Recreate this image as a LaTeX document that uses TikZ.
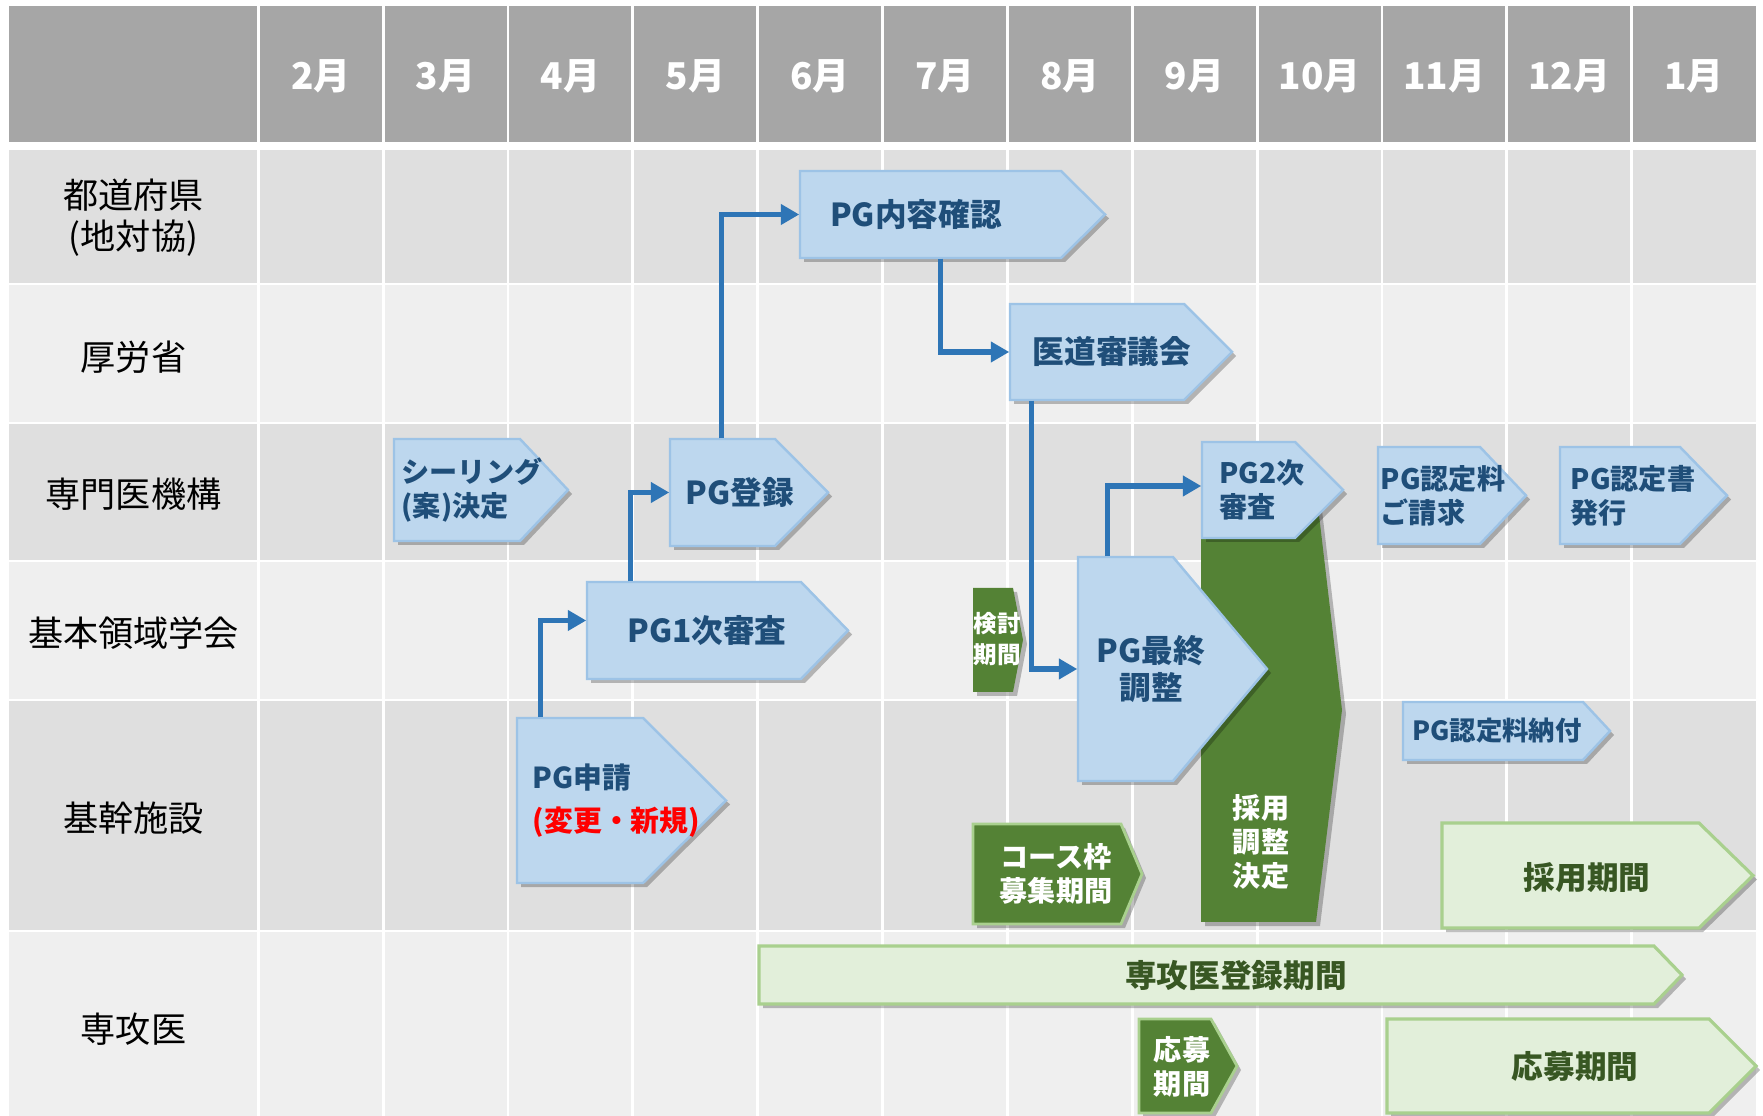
\documentclass[tikz,border=0pt]{standalone}
\usepackage{fontspec}
\setmainfont{Noto Sans CJK JP}
\usepackage{xcolor}
\usepackage{tikz}
\usetikzlibrary{arrows.meta,shadows}
\definecolor{hdr}{HTML}{A6A6A6}
\definecolor{rowdark}{HTML}{DFDFDF}
\definecolor{rowlight}{HTML}{EFEFEF}
\definecolor{boxfill}{HTML}{BDD7EE}
\definecolor{boxline}{HTML}{9DC3E6}
\definecolor{boxtext}{HTML}{1F4E79}
\definecolor{flow}{HTML}{2E75B6}
\definecolor{leaf}{HTML}{548235}
\definecolor{mint}{HTML}{E2EFDA}
\definecolor{mintline}{HTML}{A9D08E}
\definecolor{minttext}{HTML}{385723}
\definecolor{alert}{HTML}{FF0000}
\tikzset{
  gridline/.style={draw=white, line width=0.8pt},
  dropsh/.style={drop shadow={shadow xshift=0.04cm, shadow yshift=-0.04cm, opacity=0.25, fill=black}},
  boxB/.style={dropsh, fill=boxfill, draw=boxline, line width=0.7pt},
  boxG/.style={dropsh, fill=leaf, draw=mintline, line width=0.8pt},
  boxGn/.style={dropsh, fill=leaf},
  boxL/.style={dropsh, fill=mint, draw=mintline, line width=0.9pt},
  fz/.style 2 args={font=\fontsize{#1}{#2}\selectfont\bfseries},
  tB/.style={text=boxtext, align=left, inner sep=0pt},
  tG/.style={text=white, align=center, inner sep=0pt},
  tL/.style={text=minttext, align=center, inner sep=0pt},
  monthlab/.style={text=white, fz={10.5}{12}},
  rowlab/.style={text=black, font=\fontsize{10}{11.8}\selectfont, align=center},
  conn/.style={draw=flow, line width=1.55pt, -{Triangle[length=5.2pt,width=5.6pt]}}
}

\begin{document}
\begin{tikzpicture}[x=0.01cm, y=-0.01cm]
  \useasboundingbox (0,0) rectangle (1763,1116);
  \fill[white] (0,0) rectangle (1763,1116);

  % table
  \fill[hdr] (8.6,6.4) rectangle (1756,142);
  \foreach \t/\b/\c in {150/284/rowdark, 284/423/rowlight, 423/561/rowdark,
                        561/700/rowlight, 700/931/rowdark, 931/1116/rowlight}
    \fill[\c] (8.6,\t) rectangle (1756,\b);
  \foreach \y in {284,423,561,700,931}
    \draw[gridline] (8.6,\y) -- (1756,\y);
  \foreach \i in {0,...,11}
    \draw[gridline] ({258.3+124.85*\i},6.4) -- ({258.3+124.85*\i},1116);
  \foreach \m [count=\i from 0] in {2,3,4,5,6,7,8,9,10,11,12,1}
    \node[monthlab] (m\i) at ({258.3+124.85*(\i+0.5)},76) {\m 月};

  \node[rowlab] (todofuken) at (133.5,217.5) {都道府県\\(地対協)};
  \node[rowlab] (koroshou) at (133.5,357) {厚労省};
  \node[rowlab] (kikou) at (133.5,494.5) {専門医機構};
  \node[rowlab] (gakkai) at (133.5,633) {基本領域学会};
  \node[rowlab] (kikan) at (133.5,818.5) {基幹施設};
  \node[rowlab] (senkoi) at (133.5,1029) {専攻医};

  % program steps
  \path[boxB] (394,439) -- (520,439) -- (568,490) -- (520,541) -- (394,541) -- cycle;
  \node[tB, fz={8}{9.6}, minimum width=1.56cm, minimum height=1.02cm] (ceiling) at (472,490) {シーリング\\(案)決定};
  \path[boxB] (670,439) -- (775,439) -- (828,492.5) -- (775,546) -- (670,546) -- cycle;
  \node[tB, fz={9}{11}, minimum width=1.40cm, minimum height=1.07cm] (toroku) at (740,492.5) {PG登録};
  \path[boxB] (800,171) -- (1061,171) -- (1105,214.5) -- (1061,258) -- (800,258) -- cycle;
  \node[tB, fz={9}{11}, minimum width=2.32cm, minimum height=0.87cm] (naiyo) at (916,214.5) {PG内容確認};
  \path[boxB] (1010,304) -- (1184,304) -- (1232,352) -- (1184,400) -- (1010,400) -- cycle;
  \node[tB, fz={9}{11}, minimum width=2.04cm, minimum height=0.96cm] (idoshin) at (1112,352) {医道審議会};
  \path[boxB] (587,582) -- (801,582) -- (848,630.5) -- (801,679) -- (587,679) -- cycle;
  \node[tB, fz={9}{11}, minimum width=2.40cm, minimum height=0.97cm] (ichiji) at (707,630.5) {PG1次審査};
  \path[boxB] (517,718) -- (643,718) -- (726,800.5) -- (643,883) -- (517,883) -- cycle;
  \node[tB, fz={8.2}{12.2}, minimum width=1.99cm, minimum height=1.65cm] (shinsei) at (616.5,800.5) {PG申請\\{\color{alert}(変更・新規)}};

  \path[boxGn] (973,588) -- (1013,588) -- (1023,640) -- (1013,692) -- (973,692) -- cycle;
  \node[tG, fz={6.7}{9}] (kento) at (997,639) {検討\\期間};
  \path[boxGn] (1201,498) -- (1317,498) -- (1342,710) -- (1316,922) -- (1201,922) -- cycle;
  \node[tG, fz={8}{9.7}] (saiyo) at (1261,842) {採用\\調整\\決定};

  \path[boxB] (1078,557) -- (1173,557) -- (1267,669) -- (1173,781) -- (1078,781) -- cycle;
  \node[tB, align=center, fz={9}{10.7}, minimum width=1.46cm, minimum height=2.24cm] (saishu) at (1151,669) {PG最終\\調整};
  \path[boxB] (1202,442) -- (1295,442) -- (1343,490) -- (1295,538) -- (1202,538) -- cycle;
  \node[tB, fz={8}{9.6}, minimum width=1.20cm, minimum height=0.96cm] (niji) at (1262,490) {PG2次\\審査};
  \path[boxB] (1378,447) -- (1480,447) -- (1526,495.5) -- (1480,544) -- (1378,544) -- cycle;
  \node[tB, fz={8}{9.6}, minimum width=1.30cm, minimum height=0.97cm] (seikyu) at (1443,495.5) {PG認定料\\ご請求};
  \path[boxB] (1560,447) -- (1680,447) -- (1727,495.5) -- (1680,544) -- (1560,544) -- cycle;
  \node[tB, fz={8}{9.6}, minimum width=1.46cm, minimum height=0.97cm] (hakko) at (1633,495.5) {PG認定書\\発行};
  \path[boxB] (1403,702) -- (1583,702) -- (1610,731) -- (1583,760) -- (1403,760) -- cycle;
  \node[tB, fz={7.5}{9}, minimum width=1.88cm, minimum height=0.58cm] (nofu) at (1497,731) {PG認定料納付};

  % recruitment periods
  \path[boxG] (973,824) -- (1121,824) -- (1142,874) -- (1121,924) -- (973,924) -- cycle;
  \node[tG, fz={8}{9.7}] (course) at (1056,874) {コース枠\\募集期間};
  \path[boxL] (1442,823) -- (1699,823) -- (1753,875.5) -- (1699,928) -- (1442,928) -- cycle;
  \node[tL, fz={9}{11}] (saiyokikan) at (1587,878) {採用期間};
  \path[boxL] (759,946) -- (1654,946) -- (1682,975) -- (1654,1004) -- (759,1004) -- cycle;
  \node[tL, fz={9}{11}] (senkotoroku) at (1236,975) {専攻医登録期間};
  \path[boxG] (1139,1019) -- (1211,1019) -- (1237,1066) -- (1211,1113) -- (1139,1113) -- cycle;
  \node[tG, fz={8}{9.7}] (obo) at (1182,1067) {応募\\期間};
  \path[boxL] (1387,1019) -- (1709,1019) -- (1756,1066) -- (1709,1113) -- (1387,1113) -- cycle;
  \node[tL, fz={9}{11}] (obokikan) at (1575,1067) {応募期間};

  \draw[conn] ([xshift=0.24cm]shinsei.north west) |- ([yshift=0.1cm]ichiji.west);
  \draw[conn] ([xshift=0.445cm]ichiji.north west) |- (toroku.west);
  \draw[conn] ([xshift=0.52cm]toroku.north west) |- (naiyo.west);
  \draw[conn] ([xshift=1.41cm]naiyo.south west) |- (idoshin.west);
  \draw[conn] ([xshift=0.22cm]idoshin.south west) |- (saishu.west);
  \draw[conn] ([xshift=0.3cm]saishu.north west) |- ([yshift=0.04cm]niji.west);
\end{tikzpicture}
\end{document}
